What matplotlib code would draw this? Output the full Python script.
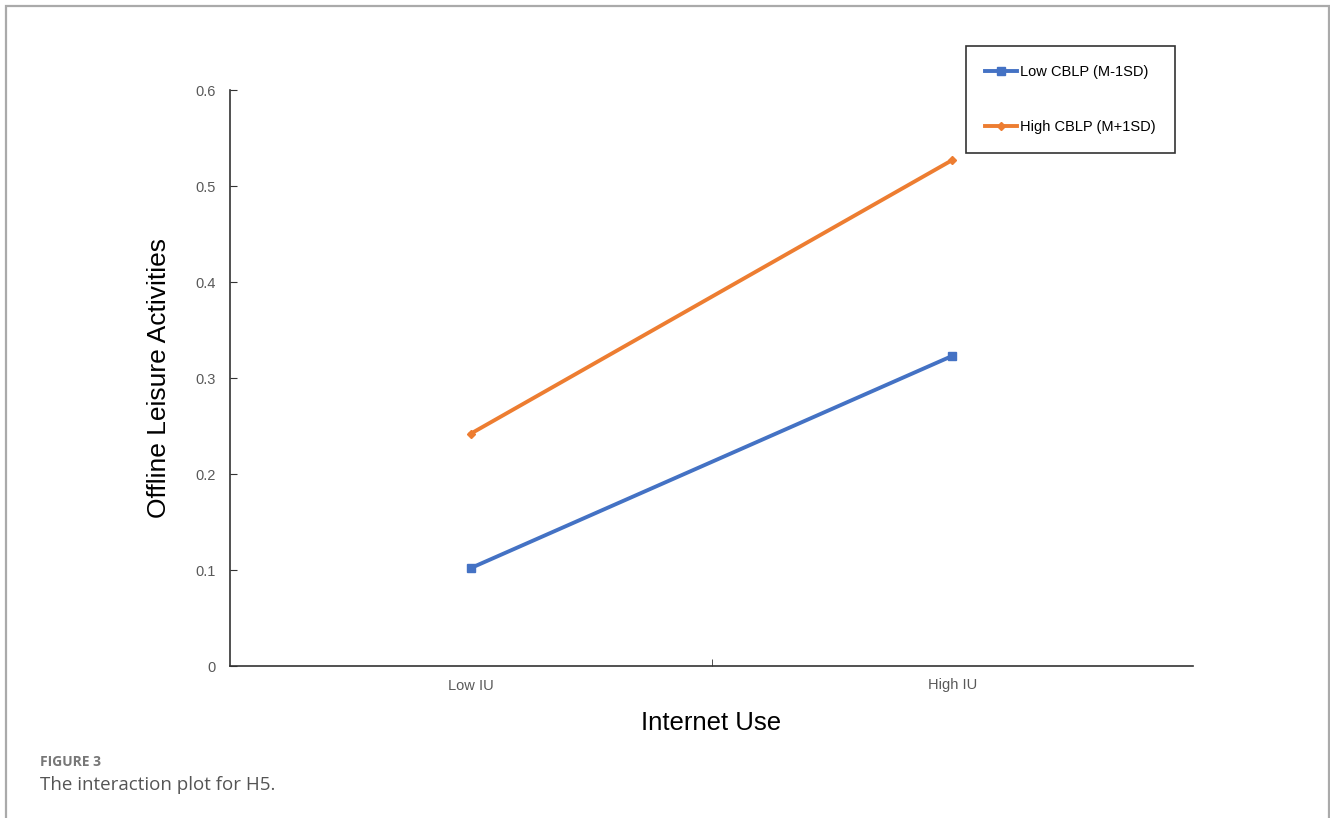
import matplotlib.pyplot as plt
from matplotlib.patches import Rectangle

categories = ["Low IU", "High IU"]
low_cblp = [0.102, 0.323]
high_cblp = [0.242, 0.527]
series_names = ["Low CBLP (M-1SD)", "High CBLP (M+1SD)"]
y_ticks = [0, 0.1, 0.2, 0.3, 0.4, 0.5, 0.6]
y_tick_labels = ["0", "0.1", "0.2", "0.3", "0.4", "0.5", "0.6"]

W, H = 1330, 818
fig = plt.figure(figsize=(W / 100, H / 100), dpi=100)

# light grey page frame
fig.add_artist(Rectangle((6 / W, -0.01), (1323 / W), 1 - 6 / H + 0.01,
                         transform=fig.transFigure, fill=False,
                         edgecolor="#aaaaaa", linewidth=1.6))

ax = fig.add_axes([230 / W, 1 - 666 / H, 963 / W, 576 / H])
x = range(len(categories))
ax.plot(x, low_cblp, color="#4472C4", linewidth=2.8, marker="s",
        markersize=6, label=series_names[0])
ax.plot(x, high_cblp, color="#ED7D31", linewidth=2.8, marker="D",
        markersize=4, label=series_names[1])

ax.set_xlim(-0.5, 1.5)
ax.set_ylim(0, 0.6)
ax.set_xticks(list(x))
ax.set_xticklabels(categories, family="Liberation Sans", fontsize=10.5,
                   color="#595959")
ax.set_xticks([0.5], minor=True)
ax.tick_params(axis="x", which="major", length=0, pad=9)
ax.tick_params(axis="x", which="minor", direction="in", length=5,
               color="#333333")
ax.set_yticks(y_ticks)
ax.set_yticklabels(y_tick_labels, family="Liberation Sans", fontsize=10.5,
                   color="#595959")
ax.tick_params(axis="y", direction="in", length=5, pad=10, color="#333333")

for side in ["top", "right"]:
    ax.spines[side].set_visible(False)
for side in ["left", "bottom"]:
    ax.spines[side].set_color("#333333")
    ax.spines[side].set_linewidth(1.2)

ax.set_ylabel("Offline Leisure Activities", family="Liberation Sans",
              fontsize=19, labelpad=18)
ax.set_xlabel("Internet Use", family="Liberation Sans", fontsize=18.5,
              labelpad=13)

leg = ax.legend(loc="upper left", bbox_to_anchor=(966 / W, 1 - 46 / H),
                bbox_transform=fig.transFigure, frameon=True, fancybox=False,
                edgecolor="black", prop={"family": "Liberation Sans", "size": 10.5},
                handlelength=2.2, handletextpad=0.2, labelspacing=2.8,
                borderpad=1.3, borderaxespad=0)
leg.get_frame().set_linewidth(1.2)

fig.text(40 / W, 1 - 762 / H, "FIGURE 3", family="Open Sans",
         fontweight="bold", fontsize=10, color="#777777", va="center")
fig.text(40 / W, 1 - 785 / H, "The interaction plot for H5.",
         family="Open Sans", fontsize=13.5, color="#555555", va="center")

fig.savefig("out.png", dpi=100)
